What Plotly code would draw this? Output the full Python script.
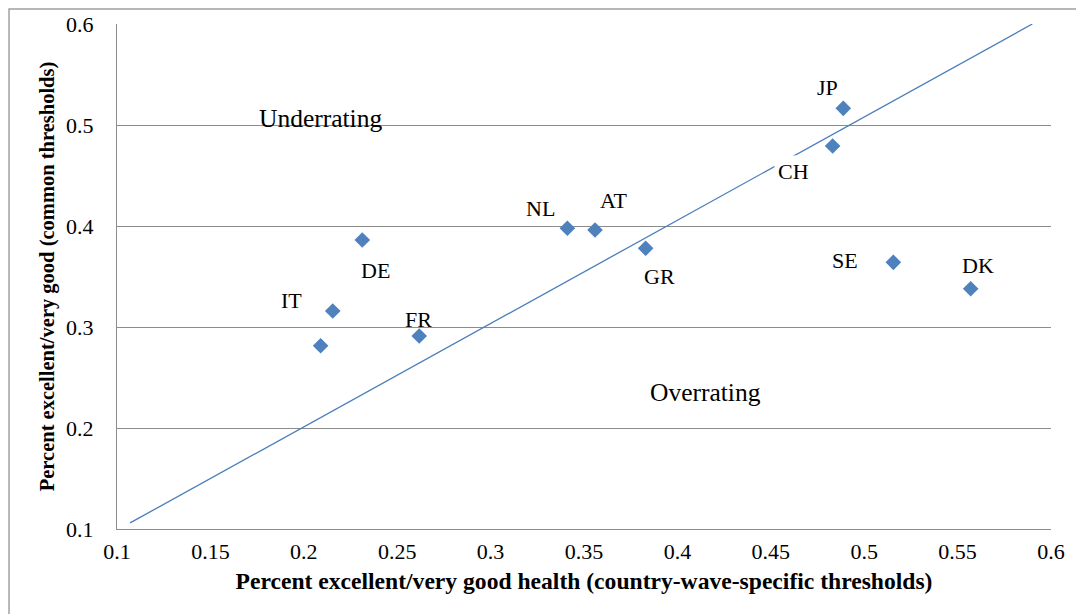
import plotly.graph_objects as go

# country codes and their two health shares
countries = ['', 'IT', 'DE', 'FR', 'NL', 'AT', 'GR', 'CH', 'JP', 'SE', 'DK']
pct_specific = [0.209, 0.2155, 0.2313, 0.2618, 0.3411, 0.3559, 0.3830, 0.4831, 0.4888, 0.5156, 0.5570]
pct_common = [0.2815, 0.3158, 0.3861, 0.2911, 0.3977, 0.3960, 0.3779, 0.4792, 0.5165, 0.3640, 0.3379]

# reference line (equal shares)
line_x = [0.107, 0.590]
line_y = [0.106, 0.600]

x_ticks = [0.1, 0.15, 0.2, 0.25, 0.3, 0.35, 0.4, 0.45, 0.5, 0.55, 0.6]
x_tick_text = ['0.1', '0.15', '0.2', '0.25', '0.3', '0.35', '0.4', '0.45', '0.5', '0.55', '0.6']
y_ticks = [0.1, 0.2, 0.3, 0.4, 0.5, 0.6]
y_tick_text = ['0.1', '0.2', '0.3', '0.4', '0.5', '0.6']

# label offsets in pixels (x right, y up) relative to each marker
label_shift = {'IT': (-41, 11), 'DE': (13, -30), 'FR': (-1, 16), 'NL': (-27, 20),
               'AT': (18, 30), 'GR': (14, -28), 'CH': (-39, -25), 'JP': (-16, 21),
               'SE': (-48, 2), 'DK': (7, 23)}

FONT = 'Liberation Serif, Tinos, Times New Roman, DejaVu Serif, serif'
BLUE = '#4F81BD'
GRID = '#8C8C8C'

fig = go.Figure()
fig.add_trace(go.Scatter(x=line_x, y=line_y, mode='lines',
                         line=dict(color='#4A7EBB', width=1.3),
                         showlegend=False, hoverinfo='skip'))
fig.add_trace(go.Scatter(x=pct_specific, y=pct_common, mode='markers',
                         marker=dict(symbol='diamond', size=12, color=BLUE),
                         text=countries, showlegend=False))

for c, xv, yv in zip(countries, pct_specific, pct_common):
    if not c:
        continue
    dx, dy = label_shift[c]
    fig.add_annotation(x=xv, y=yv, text=c, showarrow=False,
                       xshift=dx, yshift=dy,
                       font=dict(family=FONT, size=22, color='black'),
                       bgcolor='white' if c == 'CH' else None,
                       borderpad=3)

fig.add_annotation(x=0.2087, y=0.506, text='Underrating', showarrow=False,
                   font=dict(family=FONT, size=25.5, color='black'))
fig.add_annotation(x=0.4148, y=0.2347, text='Overrating', showarrow=False,
                   font=dict(family=FONT, size=25.5, color='black'))

# outer chart frame, cut at the right and bottom
fig.add_shape(type='rect', xref='paper', yref='paper',
              x0=-0.1156, x1=1.2, y0=-0.3, y1=1.0297,
              line=dict(color='#A0A0A0', width=1.5), layer='below')

# the page adds an 8px body margin, so margins are set 8px smaller on the left/top
fig.update_layout(width=1084, height=614,
                  margin=dict(l=109, r=41, t=16, b=93),
                  paper_bgcolor='white', plot_bgcolor='white',
                  font=dict(family=FONT, size=22, color='black'))
fig.update_xaxes(range=[0.1, 0.6], tickvals=x_ticks, ticktext=x_tick_text,
                 showgrid=False, zeroline=False, automargin=False,
                 showline=True, linecolor=GRID, linewidth=1.3,
                 ticklabelstandoff=2,
                 title=dict(text='<b>Percent excellent/very good health (country-wave-specific thresholds)</b>',
                            font=dict(family=FONT, size=23.6), standoff=9))
fig.update_yaxes(range=[0.1, 0.6], tickvals=y_ticks, ticktext=y_tick_text,
                 showgrid=True, gridcolor=GRID, gridwidth=1.3, zeroline=False,
                 showline=True, linecolor=GRID, linewidth=1.3, automargin=False,
                 ticklabelstandoff=18,
                 title=dict(text='<b>Percent excellent/very good (common thresholds)</b>',
                            font=dict(family=FONT, size=20.5), standoff=5))

fig.write_html('out.html')
